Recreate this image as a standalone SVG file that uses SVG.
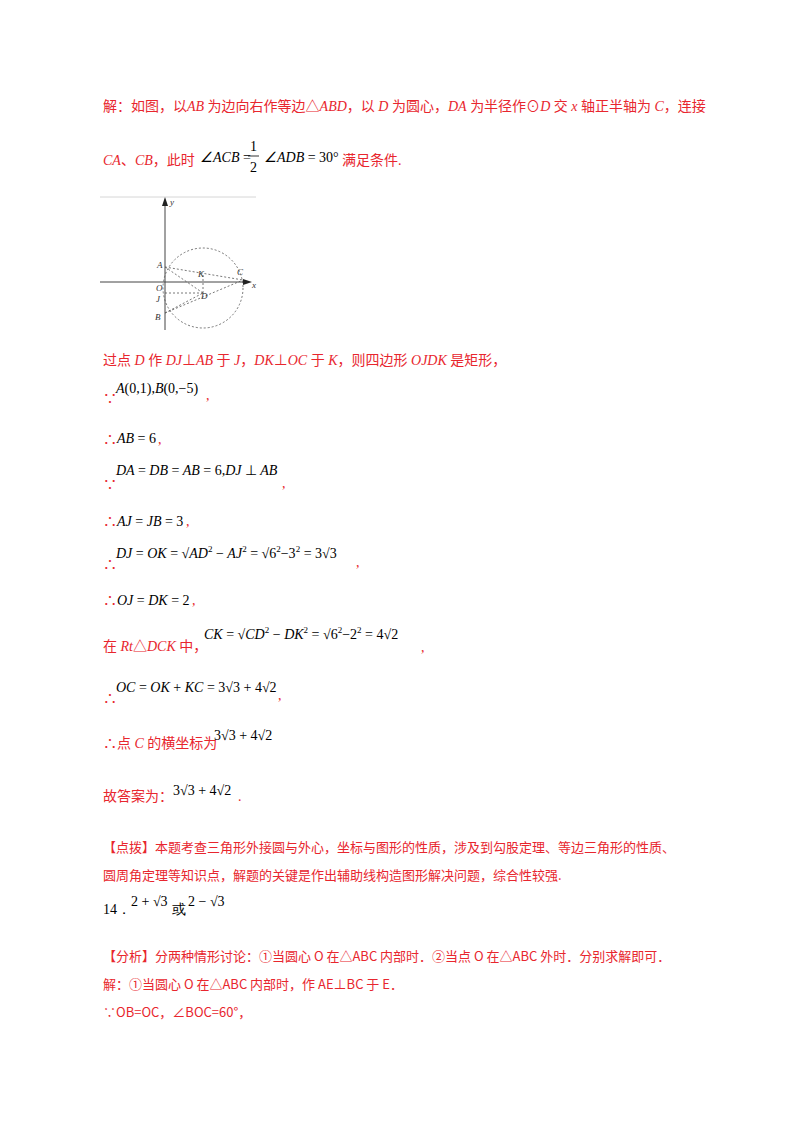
<svg xmlns="http://www.w3.org/2000/svg" width="800" height="1132" viewBox="0 0 800 1132">
<style>
.r{fill:#e8262e;font-family:"Liberation Serif","Noto Sans CJK SC",serif;font-size:14px}
.k{fill:#000;font-family:"Liberation Serif",serif;font-size:14px;font-style:italic}
.n{fill:#000;font-family:"Liberation Serif",serif;font-size:14px}
.s{fill:#e8262e;font-family:"Noto Sans CJK SC",sans-serif;font-size:13px}
.l{fill:#333;font-family:"Liberation Serif",serif;font-size:9px;font-style:italic}
.d{stroke:#555;stroke-width:0.8;stroke-dasharray:2,2;fill:none}
</style>
<rect width="800" height="1132" fill="#fff"/>
<g id="text">
<text class="r" x="103" y="111">解：如图，以<tspan font-style="italic">AB</tspan> 为边向右作等边△<tspan font-style="italic">ABD</tspan>，以 <tspan font-style="italic">D</tspan> 为圆心，<tspan font-style="italic">DA</tspan> 为半径作⊙<tspan font-style="italic">D</tspan> 交 <tspan font-style="italic">x</tspan> 轴正半轴为 <tspan font-style="italic">C</tspan>，连接</text>
<text class="r" x="103" y="165"><tspan font-style="italic">CA</tspan>、<tspan font-style="italic">CB</tspan>，此时</text>
<text class="k" x="200" y="162">∠ACB <tspan font-style="normal">=</tspan></text>
<text class="n" x="250" y="151">1</text><line x1="248" y1="156" x2="259" y2="156" stroke="#000" stroke-width="0.8"/><text class="n" x="250" y="172">2</text>
<text class="k" x="264" y="162">∠ADB <tspan font-style="normal">= 30°</tspan></text>
<text class="r" x="342" y="165">满足条件.</text>

<text class="r" x="103" y="365">过点 <tspan font-style="italic">D</tspan> 作 <tspan font-style="italic">DJ</tspan>⊥<tspan font-style="italic">AB</tspan> 于 <tspan font-style="italic">J</tspan>，<tspan font-style="italic">DK</tspan>⊥<tspan font-style="italic">OC</tspan> 于 <tspan font-style="italic">K</tspan>，则四边形 <tspan font-style="italic">OJDK</tspan> 是矩形，</text>
<text class="r" x="103" y="403">∵</text><text class="k" x="116" y="393">A<tspan font-style="normal">(0,1),</tspan>B<tspan font-style="normal">(0,−5)</tspan></text><text class="r" x="206" y="400">,</text>
<text class="r" x="103" y="444">∴</text><text class="k" x="117" y="443">AB <tspan font-style="normal">= 6</tspan></text><text class="r" x="158" y="444">,</text>
<text class="r" x="103" y="489">∵</text><text class="k" x="116" y="475">DA <tspan font-style="normal">=</tspan> DB <tspan font-style="normal">=</tspan> AB <tspan font-style="normal">= 6,</tspan>DJ <tspan font-style="normal">⊥</tspan> AB</text><text class="r" x="282" y="488">,</text>
<text class="r" x="103" y="526">∴</text><text class="k" x="117" y="526">AJ <tspan font-style="normal">=</tspan> JB <tspan font-style="normal">= 3</tspan></text><text class="r" x="186" y="526">,</text>
<text class="r" x="103" y="569">∴</text><text class="k" x="116" y="558">DJ <tspan font-style="normal">=</tspan> OK <tspan font-style="normal">= √</tspan>AD<tspan font-size="9" dy="-6" font-style="normal">2</tspan><tspan dy="6" font-style="normal"> − </tspan>AJ<tspan font-size="9" dy="-6" font-style="normal">2</tspan><tspan dy="6" font-style="normal"> = √6</tspan><tspan font-size="9" dy="-6" font-style="normal">2</tspan><tspan dy="6" font-style="normal">−3</tspan><tspan font-size="9" dy="-6" font-style="normal">2</tspan><tspan dy="6" font-style="normal"> = 3√3</tspan></text><text class="r" x="356" y="567">,</text>
<text class="r" x="103" y="605">∴</text><text class="k" x="117" y="605">OJ <tspan font-style="normal">=</tspan> DK <tspan font-style="normal">= 2</tspan></text><text class="r" x="192" y="605">,</text>
<text class="r" x="103" y="651">在 <tspan font-style="italic">Rt</tspan>△<tspan font-style="italic">DCK</tspan> 中，</text>
<text class="k" x="204" y="639">CK <tspan font-style="normal">= √</tspan>CD<tspan font-size="9" dy="-6" font-style="normal">2</tspan><tspan dy="6" font-style="normal"> − </tspan>DK<tspan font-size="9" dy="-6" font-style="normal">2</tspan><tspan dy="6" font-style="normal"> = √6</tspan><tspan font-size="9" dy="-6" font-style="normal">2</tspan><tspan dy="6" font-style="normal">−2</tspan><tspan font-size="9" dy="-6" font-style="normal">2</tspan><tspan dy="6" font-style="normal"> = 4√2</tspan></text><text class="r" x="421" y="652">,</text>
<text class="r" x="103" y="703">∴</text><text class="k" x="116" y="692">OC <tspan font-style="normal">=</tspan> OK <tspan font-style="normal">+</tspan> KC <tspan font-style="normal">= 3√3 + 4√2</tspan></text><text class="r" x="278" y="700">,</text>
<text class="r" x="103" y="748">∴点 <tspan font-style="italic">C</tspan> 的横坐标为</text><text class="n" x="214" y="740">3√3 + 4√2</text>
<text class="r" x="103" y="801">故答案为：</text><text class="n" x="173" y="795">3√3 + 4√2</text><text class="r" x="238" y="801">.</text>
<text class="s" x="103" y="852">【点拨】本题考查三角形外接圆与外心，坐标与图形的性质，涉及到勾股定理、等边三角形的性质、</text>
<text class="s" x="103" y="880">圆周角定理等知识点，解题的关键是作出辅助线构造图形解决问题，综合性较强.</text>
<text class="n" x="103" y="914">14．</text><text class="n" x="131" y="906">2 + √3</text><text class="n" x="172" y="914">或</text><text class="n" x="188" y="906">2 − √3</text>
<text class="s" x="103" y="961">【分析】分两种情形讨论：①当圆心 O 在△ABC 内部时．②当点 O 在△ABC 外时．分别求解即可．</text>
<text class="s" x="103" y="989">解：①当圆心 O 在△ABC 内部时，作 AE⊥BC 于 E．</text>
<text class="s" x="103" y="1017">∵OB=OC，∠BOC=60°，</text>
</g>
<g id="figure">
<line x1="100" y1="197" x2="256" y2="197" stroke="#ccc" stroke-width="0.8"/>
<line x1="165" y1="330" x2="165" y2="202" stroke="#444" stroke-width="1"/>
<polygon points="165,197 162,206 168,206" fill="#222"/>
<line x1="100" y1="282" x2="248" y2="282" stroke="#444" stroke-width="1"/>
<polygon points="252,282 243,279 243,285" fill="#222"/>
<circle class="d" cx="203" cy="288" r="40"/>
<path class="d" d="M165,267 L243,280 M165,267 L203,293 M165,313 L243,280 M165,313 L203,293 M165,293 L203,293 M203,275 L203,293"/>
<text class="l" x="170" y="205">y</text><text class="l" x="252" y="288">x</text>
<text class="l" x="157" y="268">A</text><text class="l" x="237" y="275">C</text><text class="l" x="198" y="277">K</text>
<text class="l" x="156" y="291">O</text><text class="l" x="201" y="299">D</text><text class="l" x="156" y="302">J</text><text class="l" x="155" y="320">B</text>
</g>
</svg>
